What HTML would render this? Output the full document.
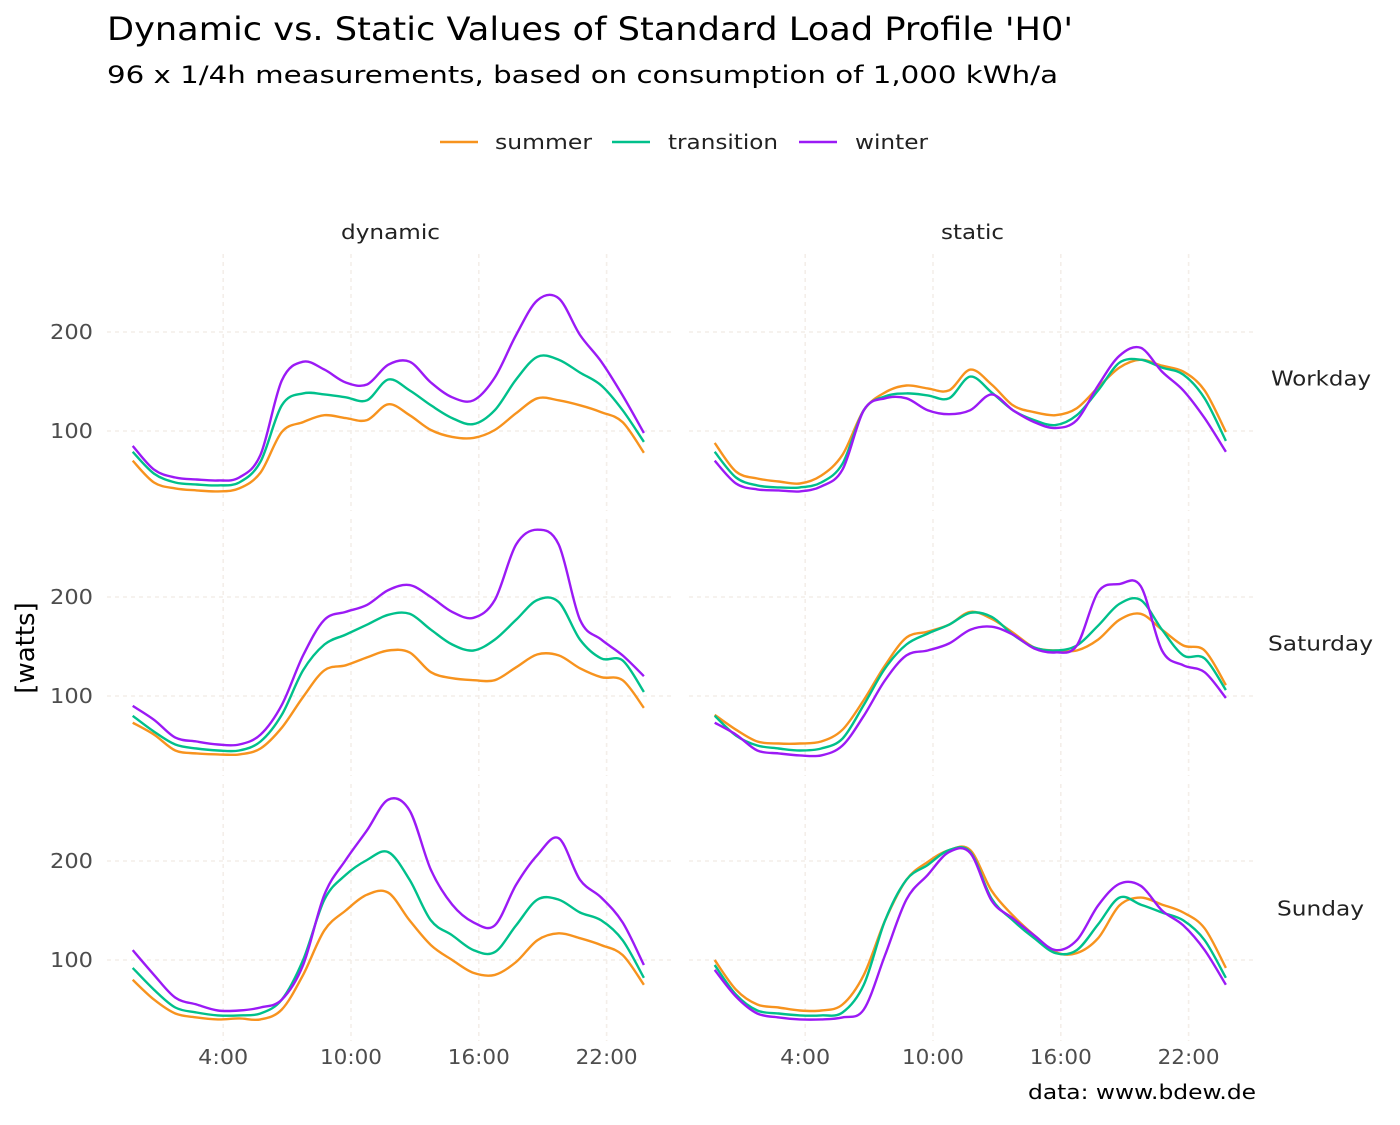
<!DOCTYPE html>
<html><head><meta charset="utf-8"><style>
body{margin:0;background:#fff;font-family:"Liberation Sans","DejaVu Sans",sans-serif}
svg text{font-family:"DejaVu Sans","Liberation Sans",sans-serif}
</style></head><body>
<svg id="chart" width="1400" height="1120" xmlns="http://www.w3.org/2000/svg">
<text x="107" y="40" font-size="32" fill="#000" textLength="966" lengthAdjust="spacingAndGlyphs">Dynamic vs. Static Values of Standard Load Profile 'H0'</text>
<text x="107" y="83" font-size="24" fill="#000" textLength="951" lengthAdjust="spacingAndGlyphs">96 x 1/4h measurements, based on consumption of 1,000 kWh/a</text>
<g>
<line x1="440" y1="142" x2="478" y2="142" stroke="#F7931E" stroke-width="2.5"/>
<text x="495" y="149" font-size="20" fill="#222" textLength="97" lengthAdjust="spacingAndGlyphs">summer</text>
<line x1="612" y1="142" x2="650" y2="142" stroke="#00C08B" stroke-width="2.5"/>
<text x="668" y="149" font-size="20" fill="#222" textLength="110" lengthAdjust="spacingAndGlyphs">transition</text>
<line x1="799" y1="142" x2="837" y2="142" stroke="#9B1AF5" stroke-width="2.5"/>
<text x="855" y="149" font-size="20" fill="#222" textLength="73" lengthAdjust="spacingAndGlyphs">winter</text>
</g>
<text x="341" y="239" font-size="20" fill="#222" textLength="99" lengthAdjust="spacingAndGlyphs">dynamic</text>
<text x="941" y="239" font-size="20" fill="#222" textLength="63" lengthAdjust="spacingAndGlyphs">static</text>
<text transform="translate(34,648) rotate(-90)" font-size="26" fill="#000" text-anchor="middle">[watts]</text>
<text x="1028" y="1099" font-size="20" fill="#000" textLength="228" lengthAdjust="spacingAndGlyphs">data: www.bdew.de</text>
<g id="plots"></g>
</svg>
<script>
const rows = ['Workday','Saturday','Sunday'];
const cols = ['dynamic','static'];
const seriesNames = ['summer','transition','winter'];
const xTicks = [4,10,16,22];
const xTickLabels = ['4:00','10:00','16:00','22:00'];
const yTicks = [100,200];
const hours = [-0.25,0.75,1.75,2.75,3.75,4.75,5.75,6.75,7.75,8.75,9.75,10.75,11.75,12.75,13.75,14.75,15.75,16.75,17.75,18.75,19.75,20.75,21.75,22.75,23.75];
// Workday dynamic
const wdDynSummer = [70,48,42,40,39,42,58,99,109,116,113,111,127,116,101,94,93,101,118,133,131,126,119,109,78];
const wdDynTransition = [79,57,48,46,45,48,69,126,138,137,134,131,152,141,126,113,107,121,152,175,172,159,146,121,89];
const wdDynWinter = [85,61,53,51,50,53,76,151,170,162,149,147,167,170,149,134,131,154,197,232,234,197,170,136,98];
// Workday static
const wdStaSummer = [88,59,52,49,47,55,76,121,139,146,143,141,162,147,126,119,116,123,144,164,172,166,160,141,99];
const wdStaTransition = [79,53,45,43,43,48,67,121,135,138,136,133,155,139,121,111,106,116,141,169,172,164,157,133,90];
const wdStaWinter = [70,47,41,40,39,44,61,121,133,133,121,117,121,137,121,109,103,111,146,176,184,160,141,113,79];
// Saturday dynamic
const saDynSummer = [73,61,45,42,41,41,47,68,99,126,131,139,146,144,124,118,116,116,129,142,141,128,119,116,88];
const saDynTransition = [80,64,51,47,45,45,54,81,126,152,162,172,182,183,167,152,146,157,177,197,195,157,138,136,104];
const saDynWinter = [90,76,58,54,51,51,61,91,141,177,185,192,207,212,200,185,179,197,253,268,253,177,157,141,120];
// Saturday static
const saStaSummer = [81,66,54,52,52,54,66,96,131,159,165,172,185,178,164,149,146,146,157,177,183,167,151,146,111];
const saStaTransition = [80,60,50,47,45,47,57,91,128,152,163,172,184,180,162,149,146,151,171,193,197,167,141,138,106];
const saStaWinter = [73,61,45,42,40,40,50,80,116,141,146,153,167,170,162,148,144,151,205,213,211,146,131,124,98];
// Sunday dynamic
const suDynSummer = [80,60,46,42,40,41,40,50,85,130,150,166,168,140,115,100,87,85,98,120,127,122,115,105,75];
const suDynTransition = [92,70,52,47,44,44,46,60,100,161,186,201,209,181,140,125,110,108,135,161,161,148,140,120,82];
const suDynWinter = [110,85,62,55,49,49,52,60,95,166,201,231,262,251,191,156,138,135,176,206,223,181,163,138,95];
// Sunday static
const suStaSummer = [100,70,55,52,49,49,55,85,140,181,199,211,211,170,145,125,108,107,122,155,163,156,148,132,92];
const suStaTransition = [95,65,49,46,44,44,47,75,140,181,196,211,209,162,140,122,107,110,136,163,156,148,140,120,82];
const suStaWinter = [90,63,46,42,40,40,42,50,105,161,186,209,208,160,142,125,110,120,155,177,175,150,135,110,75];

const panelData = [
  [[wdDynSummer,wdDynTransition,wdDynWinter],[wdStaSummer,wdStaTransition,wdStaWinter]],
  [[saDynSummer,saDynTransition,saDynWinter],[saStaSummer,saStaTransition,saStaWinter]],
  [[suDynSummer,suDynTransition,suDynWinter],[suStaSummer,suStaTransition,suStaWinter]]
];
const colors = ['#F7931E','#00C08B','#9B1AF5'];
const rowLabelPos = [[1271,100],[1268,105],[1277,87]];
const NS = 'http://www.w3.org/2000/svg';
const plots = document.getElementById('plots');
const colX0 = [138, 720], pxPerHour = 21.3;
const rowY100 = [431, 696, 960], pxPerWatt = 0.99;
const panelLeft = [107, 689], panelRight = [672, 1256];
const panelTop = [254, 519, 784], panelBottom = [511, 776, 1041];
function xScale(c,h){return colX0[c]+h*pxPerHour;}
function yScale(r,v){return rowY100[r]-(v-100)*pxPerWatt;}
function mk(tag,attrs){const e=document.createElementNS(NS,tag);for(const k in attrs)e.setAttribute(k,attrs[k]);return e;}
function smoothPath(pts){
  let d='M'+pts[0][0].toFixed(1)+','+pts[0][1].toFixed(1);
  for(let i=0;i<pts.length-1;i++){
    const p0=pts[Math.max(0,i-1)],p1=pts[i],p2=pts[i+1],p3=pts[Math.min(pts.length-1,i+2)];
    const c1=[p1[0]+(p2[0]-p0[0])/6,p1[1]+(p2[1]-p0[1])/6];
    const c2=[p2[0]-(p3[0]-p1[0])/6,p2[1]-(p3[1]-p1[1])/6];
    d+=' C'+c1[0].toFixed(1)+','+c1[1].toFixed(1)+' '+c2[0].toFixed(1)+','+c2[1].toFixed(1)+' '+p2[0].toFixed(1)+','+p2[1].toFixed(1);
  }
  return d;
}
for(let r=0;r<3;r++){
  for(let c=0;c<2;c++){
    const g=mk('g',{});
    
    
    yTicks.forEach(v=>{
      const y=yScale(r,v);
      const l=mk('line',{x1:panelLeft[c],x2:panelRight[c],y1:y,y2:y,stroke:'#f4eee9','stroke-width':1.6,'stroke-dasharray':'4,4'});
      
      
      g.appendChild(l);
    });
    xTicks.forEach(h=>{
      const x=xScale(c,h);
      const l=mk('line',{x1:x,x2:x,y1:panelTop[r],y2:panelBottom[r],stroke:'#f4eee9','stroke-width':1.6,'stroke-dasharray':'4,4'});
      
      
      g.appendChild(l);
    });
    panelData[r][c].forEach((vals,s)=>{
      const pts=vals.map((v,i)=>[xScale(c,hours[i]),yScale(r,v)]);
      const p=mk('path',{d:smoothPath(pts),fill:'none',stroke:colors[s],'stroke-width':2.4});
      
      
      g.appendChild(p);
    });
    if(c===0){
      yTicks.forEach(v=>{
        const t=mk('text',{x:93,y:yScale(r,v)+7,'font-size':20,fill:'#4d4d4d','text-anchor':'end',textLength:43,lengthAdjust:'spacingAndGlyphs'});
        t.textContent=v;
        
        
        g.appendChild(t);
      });
    }
    if(r===2){
      xTicks.forEach((h,i)=>{
        const len = xTickLabels[i].length===4 ? 50 : 62;
        const t=mk('text',{x:xScale(c,h)-len/2,y:1064,'font-size':20,fill:'#4d4d4d',textLength:len,lengthAdjust:'spacingAndGlyphs'});
        t.textContent=xTickLabels[i];
        
        
        g.appendChild(t);
      });
    }
    plots.appendChild(g);
  }
  const rl=mk('text',{x:rowLabelPos[r][0],y:(panelTop[r]+panelBottom[r])/2+3,'font-size':20,fill:'#222',textLength:rowLabelPos[r][1],lengthAdjust:'spacingAndGlyphs'});
  rl.textContent=rows[r];
  
  
  plots.appendChild(rl);
}
</script>
</body></html>
